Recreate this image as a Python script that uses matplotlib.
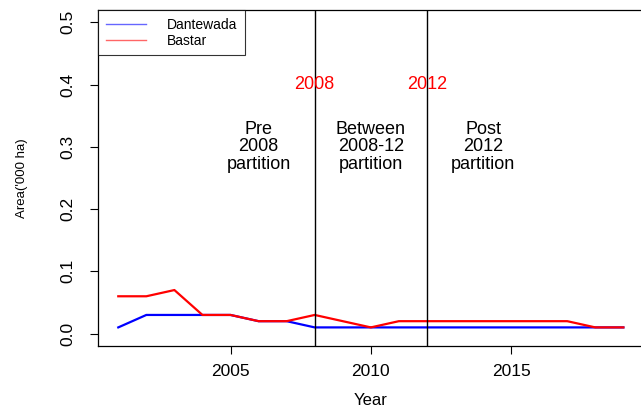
import matplotlib.pyplot as plt
import numpy as np

plt.rcParams['font.family'] = ['Liberation Sans', 'DejaVu Sans']

years = np.arange(2001, 2020)
dantewada = [0.01, 0.03, 0.03, 0.03, 0.03, 0.02, 0.02, 0.01, 0.01, 0.01,
             0.01, 0.01, 0.01, 0.01, 0.01, 0.01, 0.01, 0.01, 0.01]
bastar = [0.06, 0.06, 0.07, 0.03, 0.03, 0.02, 0.02, 0.03, 0.02, 0.01,
          0.02, 0.02, 0.02, 0.02, 0.02, 0.02, 0.02, 0.01, 0.01]
partition_years = [2008, 2012]
period_x = [2006, 2010, 2014]
period_labels = ['Pre\n2008\npartition', 'Between\n2008-12\npartition', 'Post\n2012\npartition']

fig = plt.figure(figsize=(6.41, 4.12), dpi=100)
ax = fig.add_axes([0.153, 0.160, 0.851, 0.816])

ax.plot(years, dantewada, color='blue', lw=1.6, label='Dantewada')
ax.plot(years, bastar, color='red', lw=1.6, label='Bastar')

for yr in partition_years:
    ax.axvline(yr, color='black', lw=1)
    ax.text(yr, 0.4, str(yr), color='red', ha='center', va='center', fontsize=13)

for x, lab in zip(period_x, period_labels):
    ax.text(x, 0.3, lab, ha='center', va='center', fontsize=13, linespacing=1.05)

ax.set_xlim(2000.28, 2019.72)
ax.set_ylim(-0.02, 0.52)
ax.set_xticks([2005, 2010, 2015])
ax.set_yticks([0.0, 0.1, 0.2, 0.3, 0.4, 0.5])
ax.set_yticklabels(['0.0', '0.1', '0.2', '0.3', '0.4', '0.5'], rotation=90, va='center')
ax.tick_params(axis='both', direction='out', length=6, width=0.8, labelsize=12.5, pad=7)
ax.tick_params(axis='y', pad=10)
for s in ax.spines.values():
    s.set_linewidth(0.9)

ax.set_xlabel('Year', fontsize=12, labelpad=10)
ax.set_ylabel("Area('000 ha)", fontsize=9.5, labelpad=24)

leg = ax.legend(loc='upper left', fontsize=10, frameon=True, fancybox=False,
                borderaxespad=0, handlelength=2.9, handletextpad=1.5,
                labelspacing=0.15, borderpad=0.55)
leg.get_frame().set_edgecolor('black')
leg.get_frame().set_linewidth(0.8)
for line in leg.get_lines():
    line.set_linewidth(1)
    line.set_alpha(0.6)

fig.savefig('out.png', dpi=100)
